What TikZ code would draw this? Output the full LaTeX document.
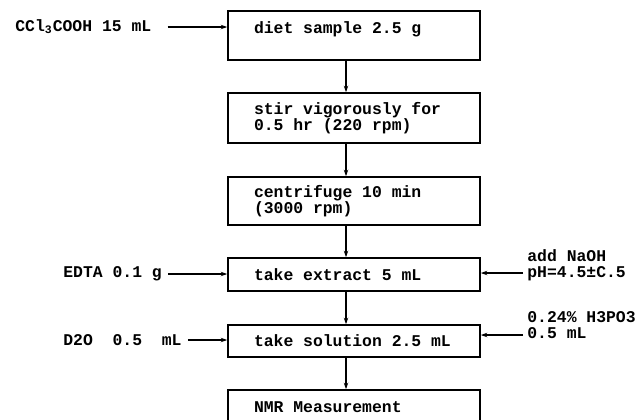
\documentclass[tikz,border=0pt]{standalone}
\usepackage{fontspec}
\setmonofont{Liberation Mono}
\usetikzlibrary{arrows.meta, positioning, calc}

\begin{document}
\begin{tikzpicture}[x=0.5pt, y=-0.5pt,
  txt/.style={font=\ttfamily\bfseries\fontsize{8.2}{7.8}\selectfont},
  stepbox/.style={txt, draw, line width=0.8pt, text width=100pt, inner xsep=13pt, inner ysep=0pt, align=flush left},
  lbl/.style={txt, inner xsep=3pt, inner ysep=1pt, align=flush left},
  arr/.style={-{Stealth[length=3.2pt,width=2.2pt]}, line width=0.6pt}]
  \useasboundingbox (0,0) rectangle (637,419);
  \clip (0,0) rectangle (637,419);
  % main column
  \node[stepbox, minimum height=24.5pt] (diet) at (354,35.5) {diet sample 2.5 g\\\mbox{}};
  \node[stepbox, minimum height=25pt] (stir) at (354,118) {stir vigorously for\\0.5 hr (220 rpm)};
  \node[stepbox, minimum height=24pt] (cent) at (354,201) {centrifuge 10 min\\(3000 rpm)};
  \node[stepbox, minimum height=16.5pt] (extr) at (354,274.5) {take extract 5 mL};
  \node[stepbox, minimum height=16pt] (soln) at (354,341) {take solution 2.5 mL};
  \node[stepbox, minimum height=24.5pt] (nmr) at (354,414.5) {NMR Measurement\\\mbox{}};
  \coordinate (spine) at (346,0);
  \foreach \a/\b in {diet/stir, stir/cent, cent/extr, extr/soln, soln/nmr}
    \draw[arr] (\a.south -| spine) -- (\b.north -| spine);
  % additions from the left
  \node[lbl, anchor=west] (tca) at (9,27) {CCl\textsubscript{3}COOH 15 mL};
  \node[lbl, anchor=west] (edta) at (57,274) {EDTA 0.1 g};
  \node[lbl, anchor=west] (dtwo) at (57,340) {D2O\ \ 0.5\ \ mL};
  \draw[arr, shorten <=5pt] (tca.east) -- (tca.east -| diet.west);
  \draw[arr] (edta.east) -- (edta.east -| extr.west);
  \draw[arr] (dtwo.east) -- (dtwo.east -| soln.west);
  % additions from the right
  \node[lbl, anchor=west] (naoh) at (521,265) {add NaOH\\pH=4.5±C.5};
  \node[lbl, anchor=west] (hpo) at (521,325) {0.24\% H3PO3\\0.5 mL};
  \coordinate (ph) at (523,273);
  \coordinate (hp) at (523,335);
  \draw[arr] (ph) -- (ph -| extr.east);
  \draw[arr] (hp) -- (hp -| soln.east);
\end{tikzpicture}
\end{document}
